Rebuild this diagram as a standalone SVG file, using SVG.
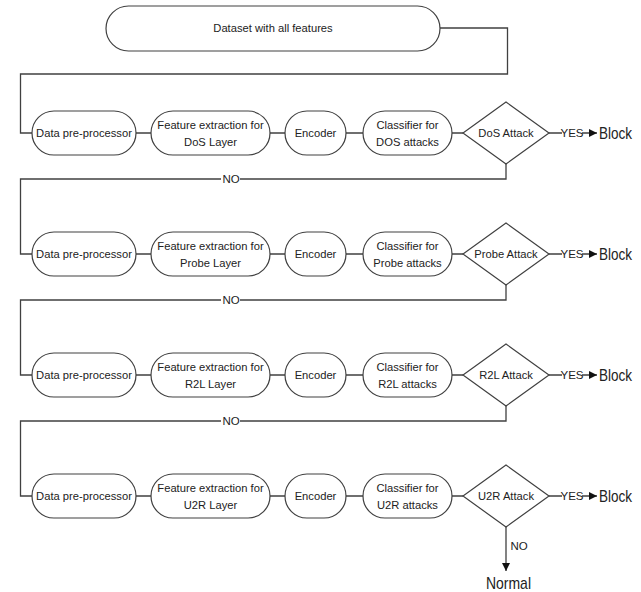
<svg xmlns="http://www.w3.org/2000/svg" width="641" height="592" viewBox="0 0 641 592">
<style>
.box{fill:#fff;stroke:#404040;stroke-width:1.2}
.ln{fill:none;stroke:#404040;stroke-width:1.3}
text{font-family:"Liberation Sans",Arial,sans-serif;font-size:11.2px;fill:#222;text-anchor:middle}
.big{font-size:17px;text-anchor:start}
.lbl{font-size:11.5px}
</style>
<defs>
<marker id="ah" viewBox="0 0 10 10" refX="10" refY="5" markerWidth="10" markerHeight="8" markerUnits="userSpaceOnUse" orient="auto"><path d="M0,0L10,5L0,10z" fill="#111"/></marker>
</defs>
<rect width="641" height="592" fill="#fff"/>
<g id="connectors">
<path class="ln" d="M440,28H507.5V74H20.5V133H32"/>
<path class="ln" d="M506,164V179H20.5V254H32"/>
<path class="ln" d="M506,285V300H20.5V375H32"/>
<path class="ln" d="M506,406V421H20.5V496H32"/>
<path class="ln" d="M136,133H151M270,133H285M346,133H363M452,133H463"/>
<path class="ln" d="M136,254H151M270,254H285M346,254H363M452,254H463"/>
<path class="ln" d="M136,375H151M270,375H285M346,375H363M452,375H463"/>
<path class="ln" d="M136,496H151M270,496H285M346,496H363M452,496H463"/>
<path class="ln" d="M549,133H562M582,133H597" marker-end="url(#ah)"/>
<path class="ln" d="M549,254H562M582,254H597" marker-end="url(#ah)"/>
<path class="ln" d="M549,375H562M582,375H597" marker-end="url(#ah)"/>
<path class="ln" d="M549,496H562M582,496H597" marker-end="url(#ah)"/>
<path class="ln" d="M506,527V571" marker-end="url(#ah)"/>
<rect x="221" y="172" width="19" height="14" fill="#fff"/>
<rect x="221" y="293" width="19" height="14" fill="#fff"/>
<rect x="221" y="414" width="19" height="14" fill="#fff"/>
<text class="lbl" x="231" y="183">NO</text>
<text class="lbl" x="231" y="304">NO</text>
<text class="lbl" x="231" y="425">NO</text>
<text class="lbl" x="572" y="137">YES</text>
<text class="lbl" x="572" y="258">YES</text>
<text class="lbl" x="572" y="379">YES</text>
<text class="lbl" x="572" y="500">YES</text>
<text class="lbl" x="519" y="550">NO</text>
</g>
<g id="dataset"><rect class="box" x="106" y="6" width="334" height="45" rx="22.5"/><text x="273" y="32">Dataset with all features</text></g>

<g id="dp1"><rect class="box" x="32" y="111" width="104" height="44" rx="22"/><text x="84" y="137">Data pre-processor</text></g>
<g id="fe1"><rect class="box" x="151" y="111" width="119" height="44" rx="22"/><text x="210.5" y="129">Feature extraction for</text><text x="210.5" y="146">DoS Layer</text></g>
<g id="enc1"><rect class="box" x="285" y="111" width="61" height="44" rx="22"/><text x="315.5" y="137">Encoder</text></g>
<g id="cls1"><rect class="box" x="363" y="111" width="89" height="44" rx="22"/><text x="407.5" y="129">Classifier for</text><text x="407.5" y="146">DOS attacks</text></g>
<g id="dec1"><path class="box" d="M506,102L549,133L506,164L463,133Z"/><text x="506" y="137">DoS Attack</text></g>
<g id="block1"><text class="big" x="599" y="139" textLength="33" lengthAdjust="spacingAndGlyphs">Block</text></g>

<g id="dp2"><rect class="box" x="32" y="232" width="104" height="44" rx="22"/><text x="84" y="258">Data pre-processor</text></g>
<g id="fe2"><rect class="box" x="151" y="232" width="119" height="44" rx="22"/><text x="210.5" y="250">Feature extraction for</text><text x="210.5" y="267">Probe Layer</text></g>
<g id="enc2"><rect class="box" x="285" y="232" width="61" height="44" rx="22"/><text x="315.5" y="258">Encoder</text></g>
<g id="cls2"><rect class="box" x="363" y="232" width="89" height="44" rx="22"/><text x="407.5" y="250">Classifier for</text><text x="407.5" y="267">Probe attacks</text></g>
<g id="dec2"><path class="box" d="M506,223L549,254L506,285L463,254Z"/><text x="506" y="258">Probe Attack</text></g>
<g id="block2"><text class="big" x="599" y="260" textLength="33" lengthAdjust="spacingAndGlyphs">Block</text></g>

<g id="dp3"><rect class="box" x="32" y="353" width="104" height="44" rx="22"/><text x="84" y="379">Data pre-processor</text></g>
<g id="fe3"><rect class="box" x="151" y="353" width="119" height="44" rx="22"/><text x="210.5" y="371">Feature extraction for</text><text x="210.5" y="388">R2L Layer</text></g>
<g id="enc3"><rect class="box" x="285" y="353" width="61" height="44" rx="22"/><text x="315.5" y="379">Encoder</text></g>
<g id="cls3"><rect class="box" x="363" y="353" width="89" height="44" rx="22"/><text x="407.5" y="371">Classifier for</text><text x="407.5" y="388">R2L attacks</text></g>
<g id="dec3"><path class="box" d="M506,344L549,375L506,406L463,375Z"/><text x="506" y="379">R2L Attack</text></g>
<g id="block3"><text class="big" x="599" y="381" textLength="33" lengthAdjust="spacingAndGlyphs">Block</text></g>

<g id="dp4"><rect class="box" x="32" y="474" width="104" height="44" rx="22"/><text x="84" y="500">Data pre-processor</text></g>
<g id="fe4"><rect class="box" x="151" y="474" width="119" height="44" rx="22"/><text x="210.5" y="492">Feature extraction for</text><text x="210.5" y="509">U2R Layer</text></g>
<g id="enc4"><rect class="box" x="285" y="474" width="61" height="44" rx="22"/><text x="315.5" y="500">Encoder</text></g>
<g id="cls4"><rect class="box" x="363" y="474" width="89" height="44" rx="22"/><text x="407.5" y="492">Classifier for</text><text x="407.5" y="509">U2R attacks</text></g>
<g id="dec4"><path class="box" d="M506,465L549,496L506,527L463,496Z"/><text x="506" y="500">U2R Attack</text></g>
<g id="block4"><text class="big" x="599" y="502" textLength="33" lengthAdjust="spacingAndGlyphs">Block</text></g>
<g id="normal"><text class="big" x="486" y="589" textLength="45" lengthAdjust="spacingAndGlyphs">Normal</text></g>
</svg>
